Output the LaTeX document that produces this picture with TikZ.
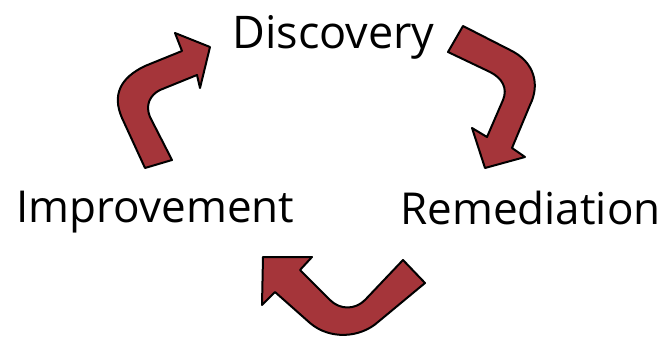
\documentclass[tikz,border=0pt]{standalone}
\usepackage{fontspec}
\setmainfont{Open Sans}
\begin{document}
\begin{tikzpicture}[x=1pt,y=-1pt,
  blockarrow/.style={fill={rgb,255:red,165;green,53;blue,58},draw=black,line width=2pt,line join=round},
  lbl/.style={anchor=base,inner sep=0pt,font=\fontsize{44}{50}\selectfont}]
\useasboundingbox (0,0) rectangle (664,339);
\node[lbl,font=\fontsize{45}{50}\selectfont] (disc) at (333.5,49) {Discovery};
\node[lbl] (impr) at (155.5,223) {Improvement};
\node[lbl] (reme) at (530.5,225) {Remediation};
% arrow discovery -> remediation
\path[blockarrow] (463,26) -- (510,50) .. controls (535,62) and (540,85) .. (530,105) -- (512,148) -- (525,157) -- (485,168) -- (472,128) -- (487,137) -- (503,100) .. controls (508,88) and (502,78) .. (490,72) -- (448,52) -- cycle;
% arrow remediation -> improvement
\path[blockarrow] (403,260) -- (425,283) -- (378,322) .. controls (360,338) and (330,340) .. (310,323) -- (275,292) -- (262,305) -- (263,257) -- (312,257) -- (300,270) -- (330,300) .. controls (340,310) and (355,310) .. (365,300) -- cycle;
% arrow improvement -> discovery
\path[blockarrow] (145,168) -- (122,118) .. controls (112,95) and (120,78) .. (145,66) -- (182,51) -- (175,33) -- (210,47) -- (200,88) -- (197,75) -- (160,90) .. controls (150,95) and (145,105) .. (150,117) -- (172,160) -- cycle;
\end{tikzpicture}
\end{document}
